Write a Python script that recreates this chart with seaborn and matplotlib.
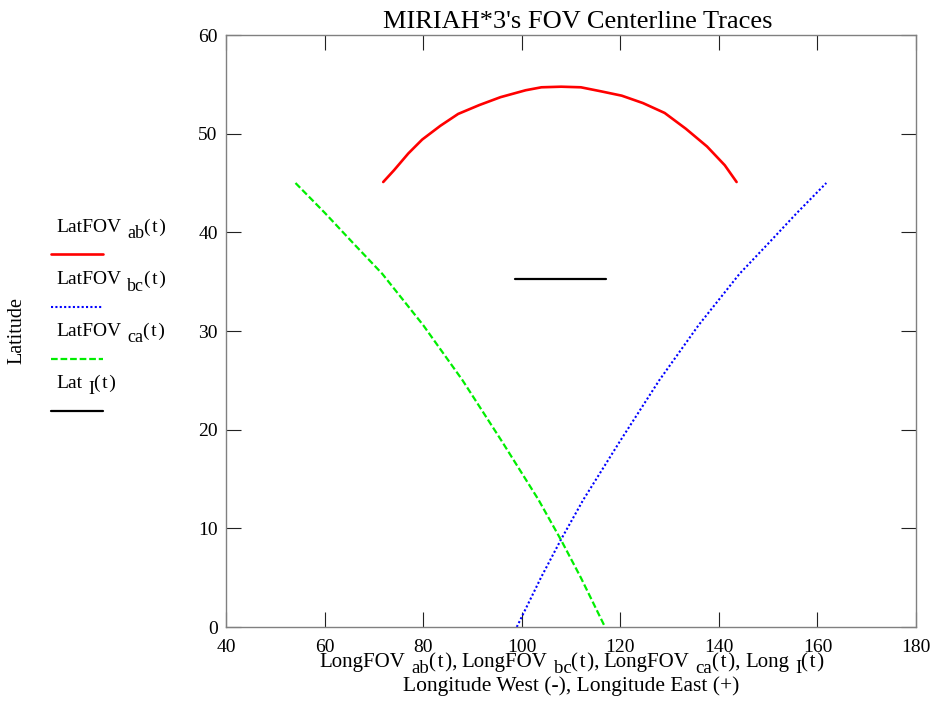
import matplotlib
matplotlib.use("Agg")
import matplotlib.pyplot as plt
from matplotlib.lines import Line2D
import seaborn as sns
import pandas as pd

# ---- data ----
long_ab = [71.9, 74.1, 77.0, 79.8, 83.5, 87.1, 91.4, 95.7, 100.8, 104.0, 108.0,
           112.0, 116.0, 120.3, 124.6, 129.0, 133.3, 137.6, 141.2, 143.6]
lat_ab = [45.1, 46.3, 48.0, 49.4, 50.8, 52.0, 52.9, 53.7, 54.4, 54.7, 54.76,
          54.7, 54.3, 53.85, 53.1, 52.1, 50.5, 48.7, 46.8, 45.1]

long_bc = [99.0, 103.9, 107.9, 112.5, 119.9, 127.9, 135.9, 144.2, 149.9, 155.9, 161.8]
lat_bc = [0.0, 5.0, 8.8, 12.9, 18.8, 25.0, 30.6, 35.8, 38.8, 42.0, 45.0]

long_ca = [54.1, 60.0, 66.0, 71.7, 80.0, 88.0, 96.0, 103.4, 108.0, 112.0, 116.9]
lat_ca = [45.0, 42.0, 38.8, 35.8, 30.6, 25.0, 18.8, 12.9, 8.8, 5.0, 0.0]

long_I = [98.6, 117.2]
lat_I = [35.3, 35.3]

x_ticks = [40, 60, 80, 100, 120, 140, 160, 180]
y_ticks = [0, 10, 20, 30, 40, 50, 60]

# label pieces: (main name, subscript)
legend_names = [("LatFOV", "ab"), ("LatFOV", "bc"), ("LatFOV", "ca"), ("Lat", "I")]
xlabel_names = [("LongFOV", "ab"), ("LongFOV", "bc"), ("LongFOV", "ca"), ("Long", "I")]
title_text = "MIRIAH*3's FOV Centerline Traces"
xlabel2_text = "Longitude West (-), Longitude East (+)"
ylabel_text = "Latitude"

# ---- style ----
sns.set_style("white")
plt.rcParams["font.family"] = ["Liberation Serif", "DejaVu Serif"]
plt.rcParams["text.color"] = "black"
plt.rcParams["axes.labelcolor"] = "black"
plt.rcParams["xtick.color"] = "black"
plt.rcParams["ytick.color"] = "black"

W, H = 940, 727
fig = plt.figure(figsize=(W / 100, H / 100), dpi=100)
ax = fig.add_axes([226 / W, 1 - 627 / H, (916 - 226) / W, (627 - 35) / H])

series = [
    (long_ab, lat_ab, "#ff0000", "-", 1.9),
    (long_bc, lat_bc, "#0000ff", (0, (1, 1.1)), 1.5),
    (long_ca, lat_ca, "#00ee00", (0, (3.0, 1.3)), 1.6),
    (long_I, lat_I, "#000000", "-", 1.6),
]
for xs, ys, c, ls, lw in series:
    df = pd.DataFrame({"x": xs, "y": ys})
    sns.lineplot(data=df, x="x", y="y", ax=ax, color=c, linestyle=ls,
                 linewidth=lw, sort=False, estimator=None)

ax.set_xlim(40, 180)
ax.set_ylim(0, 60)
ax.set_xticks(x_ticks)
ax.set_yticks(y_ticks)
ax.tick_params(axis="both", which="both", direction="in", length=11,
               width=0.8, color="#222222", top=True, right=True,
               bottom=True, left=True, labelsize=14, labelcolor="black")
ax.tick_params(axis="x", pad=9)
ax.tick_params(axis="y", pad=6)
for sp in ax.spines.values():
    sp.set_color("#808080")
    sp.set_linewidth(1.0)
ax.grid(False)
ax.set_xlabel("")
ax.set_ylabel("")

ax.set_title(title_text, fontsize=19, pad=5, x=0.51)
fig.text(571 / W, 1 - 691 / H, xlabel2_text, ha="center", va="baseline",
         fontsize=15.5)
fig.text(17 / W, 1 - 331 / H, ylabel_text, rotation=90, ha="center",
         va="center", fontsize=14.5)

renderer = fig.canvas.get_renderer()


def rich_text(x_px, base_px, parts, ha="left"):
    """parts: list of (text, fontsize, dy_px, gap_after_px)."""
    items = []
    x = x_px
    for s, size, dy, gap in parts:
        t = fig.text(x / W, 1 - (base_px + dy) / H, s, fontsize=size,
                     ha="left", va="baseline")
        w = t.get_window_extent(renderer).width
        items.append((t, x))
        x += w + gap
    if ha == "center":
        shift = (x - x_px) / 2
        for t, x0 in items:
            t.set_x((x0 - shift) / W)
    return items


PAR = "(\u200at\u200a)"

# ---- legend (label above line sample, at left) ----
for i, ((name, sub), s) in enumerate(zip(legend_names, series)):
    yb = 232 + 52 * i
    yl = 254.5 + 52 * i
    rich_text(56, yb, [(name, 14, 0, 6), (sub, 13, 6.5, 0), (PAR, 14, 0, 0)])
    fig.add_artist(Line2D([51 / W, 103 / W], [1 - yl / H, 1 - yl / H],
                          transform=fig.transFigure, color=s[2],
                          linestyle=s[3], linewidth=s[4]))

# ---- x-axis label line 1 ----
parts = []
for k, (name, sub) in enumerate(xlabel_names):
    last = k == len(xlabel_names) - 1
    parts.append((name, 15, 0, 6))
    parts.append((sub, 13.5, 6, 0))
    parts.append((PAR if last else PAR + ",", 15, 0, 0 if last else 4))
rich_text(572, 667, parts, ha="center")

fig.savefig("out.png", dpi=100)
